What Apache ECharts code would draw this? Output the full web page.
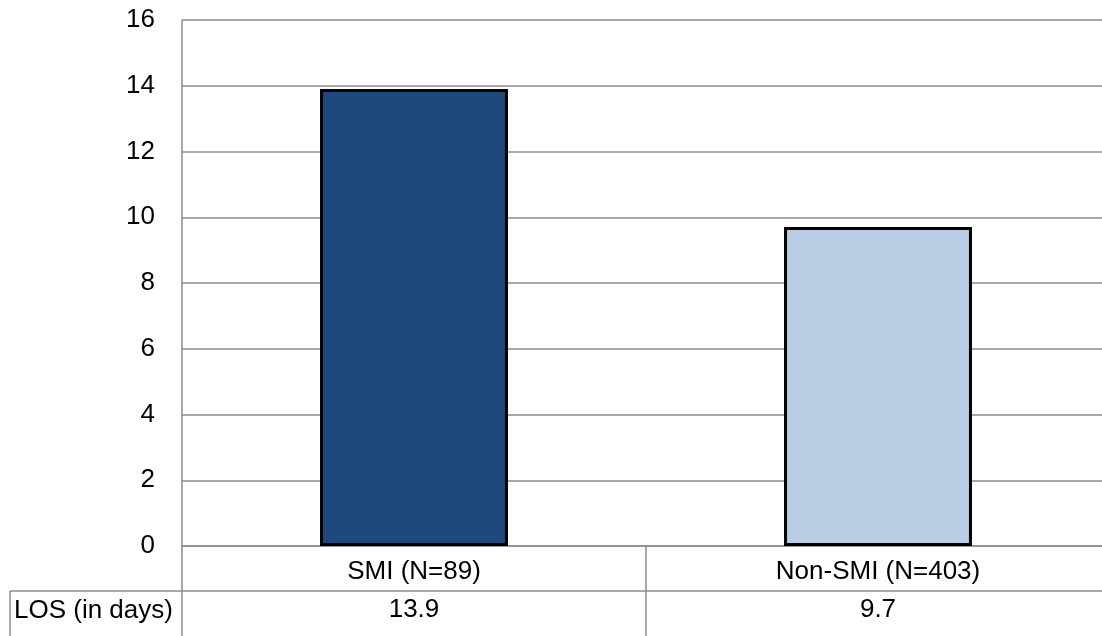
<!DOCTYPE html>
<html>
<head>
<meta charset="utf-8">
<script src="https://cdn.jsdelivr.net/npm/echarts@6/dist/echarts.min.js"></script>
<style>
html,body{margin:0;padding:0;background:#fff;}
#main{width:1102px;height:636px;}
</style>
</head>
<body>
<div id="main"></div>
<script>
const categories = ['SMI (N=89)', 'Non-SMI (N=403)'];
const losValues = [13.9, 9.7];
const barColors = ['#1F497D', '#B9CDE5'];
const tableRowLabel = 'LOS (in days)';
const yTicks = [0, 2, 4, 6, 8, 10, 12, 14, 16];

const FONT = "'Liberation Sans', Arial, sans-serif";
const FS = 26;
const GRID = '#8c8c8c';

const chart = echarts.init(document.getElementById('main'));
chart.setOption({
  animation: false,
  backgroundColor: '#fff',
  grid: { left: 182, width: 928, top: 20, bottom: 90, containLabel: false, outerBoundsMode: 'none' },
  xAxis: {
    type: 'category',
    data: categories,
    boundaryGap: true,
    axisLine: { show: true, lineStyle: { color: GRID, width: 1.5 } },
    axisTick: { show: true, length: 90, alignWithLabel: false, lineStyle: { color: GRID, width: 1.5 } },
    axisLabel: {
      margin: 8,
      interval: 0,
      formatter: function (v, i) {
        return '{c|' + v + '}\n{v|' + losValues[i] + '}';
      },
      rich: {
        c: { fontFamily: FONT, fontSize: FS, color: '#000', lineHeight: 36 },
        v: { fontFamily: FONT, fontSize: FS, color: '#000', lineHeight: 40 }
      }
    }
  },
  yAxis: {
    type: 'value',
    min: yTicks[0],
    max: yTicks[yTicks.length - 1],
    interval: 2,
    axisLine: { show: true, lineStyle: { color: GRID, width: 1.5 } },
    axisTick: { show: false },
    axisLabel: { margin: 27, fontFamily: FONT, fontSize: FS, color: '#000' },
    splitLine: { show: true, lineStyle: { color: GRID, width: 1.5 } }
  },
  series: [{
    type: 'bar',
    barWidth: '40.5%',
    data: losValues.map((v, i) => ({
      value: v,
      itemStyle: { color: barColors[i], borderColor: '#000', borderWidth: 3 }
    }))
  }],
  graphic: [
    { type: 'line', shape: { x1: 10, y1: 591, x2: 1102, y2: 591 }, style: { stroke: GRID, lineWidth: 1.5 } },
    { type: 'line', shape: { x1: 10, y1: 591, x2: 10, y2: 636 }, style: { stroke: GRID, lineWidth: 1.5 } },
    { type: 'text', left: 14, top: 598, style: { text: tableRowLabel, font: FS + 'px ' + FONT, fill: '#000' } }
  ]
});
</script>
</body>
</html>
